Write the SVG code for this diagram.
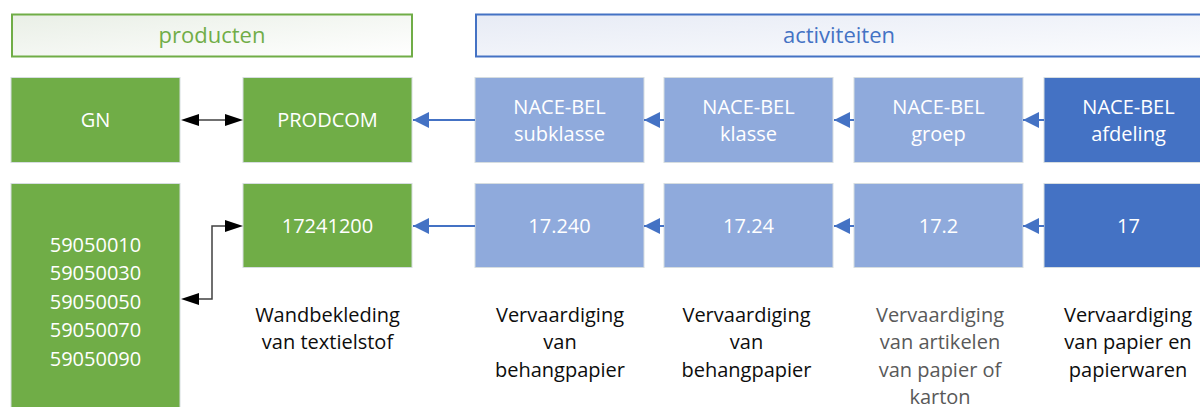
<svg xmlns="http://www.w3.org/2000/svg" width="1200" height="407" viewBox="0 0 1200 407">
<style>
text{font-family:"Open Sans","Liberation Sans",sans-serif;font-size:20px;text-anchor:middle}
.w{fill:#ffffff}
.d{fill:#0d0d0d}
.g{fill:#595959}
.green{fill:#70AD47;stroke:#d6dde0;stroke-width:1}
.lb{fill:#8FAADC;stroke:#d6dde0;stroke-width:1}
.db{fill:#4472C4;stroke:#d6dde0;stroke-width:1}
.bl{stroke:#4472C4;stroke-width:2;fill:none}
.bk{stroke:#404040;stroke-width:1.5;fill:none}
.hk{fill:#000000}
</style>
<defs>
<linearGradient id="gg" x1="0" y1="0" x2="1" y2="1">
<stop offset="0" stop-color="#e9efe6"/><stop offset="1" stop-color="#ffffff"/>
</linearGradient>
<linearGradient id="bg" x1="0" y1="0" x2="1" y2="1">
<stop offset="0" stop-color="#e7ebf5"/><stop offset="1" stop-color="#fbfcfe"/>
</linearGradient>
<marker id="ab" markerUnits="userSpaceOnUse" markerWidth="16" markerHeight="16" refX="16" refY="8" orient="auto">
<path d="M0,0 L16,8 L0,16 Z" fill="#4472C4"/>
</marker>
</defs>

<g id="hdr-producten">
<rect x="12" y="14.5" width="400" height="42" fill="url(#gg)" stroke="#70AD47" stroke-width="2"/>
<text x="212" y="43" style="font-size:22px;fill:#70AD47">producten</text>
</g>
<g id="hdr-activiteiten">
<rect x="476" y="14.5" width="728" height="42" fill="url(#bg)" stroke="#4472C4" stroke-width="2"/>
<text x="839" y="43" style="font-size:22px;fill:#4472C4">activiteiten</text>
</g>

<g id="gn">
<rect class="green" x="11" y="77.5" width="169" height="85"/>
<text class="w" x="95.5" y="127">GN</text>
</g>
<g id="prodcom">
<rect class="green" x="243" y="77.5" width="169" height="85"/>
<text class="w" x="327.5" y="127">PRODCOM</text>
</g>
<g id="nace-subklasse">
<rect class="lb" x="475" y="77.5" width="169" height="85"/>
<text class="w" x="559.5" y="113.5">NACE-BEL</text>
<text class="w" x="559.5" y="141">subklasse</text>
</g>
<g id="nace-klasse">
<rect class="lb" x="664" y="77.5" width="169" height="85"/>
<text class="w" x="748.5" y="113.5">NACE-BEL</text>
<text class="w" x="748.5" y="141">klasse</text>
</g>
<g id="nace-groep">
<rect class="lb" x="854" y="77.5" width="169" height="85"/>
<text class="w" x="938.5" y="113.5">NACE-BEL</text>
<text class="w" x="938.5" y="141">groep</text>
</g>
<g id="nace-afdeling">
<rect class="db" x="1044" y="77.5" width="169" height="85"/>
<text class="w" x="1128.5" y="113.5">NACE-BEL</text>
<text class="w" x="1128.5" y="141">afdeling</text>
</g>

<g id="gn-codes">
<rect class="green" x="11" y="183.5" width="169" height="240"/>
<text class="w" x="95.5" y="251.5">59050010</text>
<text class="w" x="95.5" y="280">59050030</text>
<text class="w" x="95.5" y="308.5">59050050</text>
<text class="w" x="95.5" y="337">59050070</text>
<text class="w" x="95.5" y="365.5">59050090</text>
</g>
<g id="prodcom-code">
<rect class="green" x="243" y="183.5" width="169" height="84"/>
<text class="w" x="327.5" y="233">17241200</text>
</g>
<g id="code-17240">
<rect class="lb" x="475" y="183.5" width="169" height="84"/>
<text class="w" x="559.5" y="233">17.240</text>
</g>
<g id="code-1724">
<rect class="lb" x="664" y="183.5" width="169" height="84"/>
<text class="w" x="748.5" y="233">17.24</text>
</g>
<g id="code-172">
<rect class="lb" x="854" y="183.5" width="169" height="84"/>
<text class="w" x="938.5" y="233">17.2</text>
</g>
<g id="code-17">
<rect class="db" x="1044" y="183.5" width="169" height="84"/>
<text class="w" x="1128.5" y="233">17</text>
</g>

<g id="desc-prodcom">
<text class="d" x="327.5" y="321.5">Wandbekleding</text>
<text class="d" x="327.5" y="349">van textielstof</text>
</g>
<g id="desc-subklasse">
<text class="d" x="560" y="321.5">Vervaardiging</text>
<text class="d" x="560" y="349">van</text>
<text class="d" x="560" y="376.5">behangpapier</text>
</g>
<g id="desc-klasse">
<text class="d" x="746.5" y="321.5">Vervaardiging</text>
<text class="d" x="746.5" y="349">van</text>
<text class="d" x="746.5" y="376.5">behangpapier</text>
</g>
<g id="desc-groep">
<text class="g" x="940" y="321.5">Vervaardiging</text>
<text class="g" x="940" y="349">van artikelen</text>
<text class="g" x="940" y="376.5">van papier of</text>
<text class="g" x="940" y="403.5">karton</text>
</g>
<g id="desc-afdeling">
<text class="d" x="1128" y="321.5">Vervaardiging</text>
<text class="d" x="1128" y="349">van papier en</text>
<text class="d" x="1128" y="376.5">papierwaren</text>
</g>

<g id="connectors">
<path class="bk" d="M198,120 L226,120"/>
<path class="hk" d="M181,120 L199,114 L199,126 Z"/>
<path class="hk" d="M243,120 L225,114 L225,126 Z"/>
<path class="bk" d="M198,299 L212,299 L212,226 L226,226"/>
<path class="hk" d="M181,299 L199,293 L199,305 Z"/>
<path class="hk" d="M243,226 L225,220 L225,232 Z"/>
<path class="bl" d="M475,120 L413,120" marker-end="url(#ab)"/>
<path class="bl" d="M664,120 L644,120" marker-end="url(#ab)"/>
<path class="bl" d="M854,120 L834,120" marker-end="url(#ab)"/>
<path class="bl" d="M1044,120 L1023,120" marker-end="url(#ab)"/>
<path class="bl" d="M475,226 L413,226" marker-end="url(#ab)"/>
<path class="bl" d="M664,226 L644,226" marker-end="url(#ab)"/>
<path class="bl" d="M854,226 L834,226" marker-end="url(#ab)"/>
<path class="bl" d="M1044,226 L1023,226" marker-end="url(#ab)"/>
</g>
</svg>
